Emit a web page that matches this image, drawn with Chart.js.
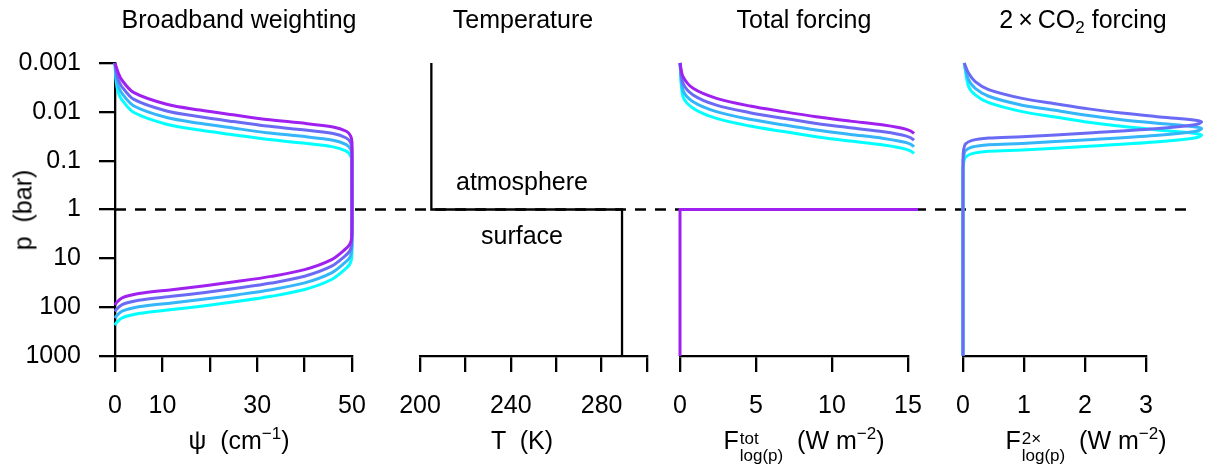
<!DOCTYPE html>
<html>
<head>
<meta charset="utf-8">
<script src="https://cdn.jsdelivr.net/npm/chart.js@4.4.1/dist/chart.umd.min.js"></script>
<style>
  html, body { margin: 0; padding: 0; background: #fff; }
  body { width: 1205px; height: 468px; position: relative; overflow: hidden;
         font-family: "Liberation Sans", Arial, sans-serif; color: #000; }
  canvas { position: absolute; top: 0; }
  .lab { position: absolute; font-size: 25px; line-height: 25px; white-space: pre; transform: translateX(-50%); }
  .lab sub { font-size: 17px; line-height: 0; vertical-align: -5px; }
  .lab sup { font-size: 17px; line-height: 0; vertical-align: 10px; }
  .ss { display: inline-block; vertical-align: -12px; font-size: 17px; line-height: 17px; margin-left: 1px; }
  .ss span { display: block; }
</style>
</head>
<body>
<canvas id="c1" width="395" height="468" style="left:0px"></canvas>
<canvas id="c2" width="265" height="468" style="left:395px"></canvas>
<canvas id="c3" width="280" height="468" style="left:660px"></canvas>
<canvas id="c4" width="265" height="468" style="left:940px"></canvas>

<div class="lab" style="left:239px; top:7px">Broadband weighting</div>
<div class="lab" style="left:523px; top:7px">Temperature</div>
<div class="lab" style="left:804px; top:7px">Total forcing</div>
<div class="lab" style="left:1083px; top:7px">2&#8201;×&#8201;CO<sub>2</sub> forcing</div>

<div class="lab" style="left:23px; top:210px; transform: translate(-50%, -50%) rotate(-90deg)">p  (bar)</div>

<div class="lab" style="left:522px; top:169px">atmosphere</div>
<div class="lab" style="left:522px; top:223px">surface</div>

<div class="lab" style="left:239px; top:428px">ψ  (cm<sup>−1</sup>)</div>
<div class="lab" style="left:522px; top:428px">T  (K)</div>
<div class="lab" style="left:804px; top:428px">F<span class="ss"><span>tot</span><span>log(p)</span></span>  (W m<sup>−2</sup>)</div>
<div class="lab" style="left:1086px; top:428px">F<span class="ss"><span>2×</span><span>log(p)</span></span>  (W m<sup>−2</sup>)</div>

<script>
// colours: cyan -> purple ramp
const colors = ['#00FFFF', '#35B5FA', '#6B6AF5', '#A020F0'];

// pressure axis (bar), shared by all panels
const yTicks = [0.001, 0.01, 0.1, 1, 10, 100, 1000];
const yTickLabels = ['0.001', '0.01', '0.1', '1', '10', '100', '1000'];
const refPressure = 1;

// x ticks per panel
const psiTicks = [0, 10, 20, 30, 40, 50];
const psiTickLabels = ['0', '10', '', '30', '', '50'];
const tempTicks = [200, 220, 240, 260, 280, 300];
const tempTickLabels = ['200', '', '240', '', '280', ''];
const totTicks = [0, 5, 10, 15];
const totTickLabels = ['0', '5', '10', '15'];
const co2Ticks = [0, 1, 2, 3];
const co2TickLabels = ['0', '1', '2', '3'];

// broadband weighting psi (cm^-1) vs p (bar), [psi, p]
const psiPurple = [[0,0.001],[0.7,0.0016],[1.4,0.0022],[3.9,0.0040],[10.9,0.0070],[17.9,0.0092],[24.9,0.0115],[32,0.0143],[39,0.0168],[46,0.0204],[48.8,0.0250],[49.7,0.031],[50,0.042],
  [50,2.0],[49.9,4.0],[49.5,5.2],[48.5,6.6],[45.7,10.6],[40,17],[33,23.4],[26,29.6],[19,36.4],[12,43.8],[5,52.7],[1.5,64.5],[0.3,81],[0,90]];
const psiViolet = [[0,0.001],[0.3,0.0016],[0.7,0.0022],[1.4,0.0030],[3.9,0.0055],[10.9,0.0096],[17.9,0.0126],[24.9,0.0158],[32,0.0196],[39,0.0230],[46,0.0279],[48.8,0.0343],[49.7,0.0425],[50,0.0575],
  [50,2.74],[49.9,5.48],[49.5,7.12],[48.5,9.04],[45.7,14.5],[40,23.3],[33,32.1],[26,40.6],[19,49.9],[12,60.0],[5,72.2],[1.5,88.4],[0.3,111],[0,123]];
const psiBlue = [[0,0.001],[0.2,0.0018],[0.7,0.0030],[1.4,0.0041],[3.9,0.0075],[10.9,0.0131],[17.9,0.0172],[24.9,0.0215],[32,0.0267],[39,0.0314],[46,0.0381],[48.8,0.0468],[49.7,0.058],[50,0.0785],
  [50,3.74],[49.9,7.48],[49.5,9.72],[48.5,12.3],[45.7,19.8],[40,31.8],[33,43.8],[26,55.4],[19,68.1],[12,81.9],[5,98.5],[1.5,121],[0.3,151],[0,168]];
const psiCyan = [[0,0.001],[0.2,0.0022],[0.7,0.0041],[1.4,0.0056],[3.9,0.0102],[10.9,0.0179],[17.9,0.0236],[24.9,0.0294],[32,0.0366],[39,0.0430],[46,0.0522],[48.8,0.064],[49.7,0.0794],[50,0.1075],
  [50,5.12],[49.9,10.2],[49.5,13.3],[48.5,16.9],[45.7,27.1],[40,43.5],[33,59.9],[26,75.8],[19,93.2],[12,112],[5,135],[1.5,165],[0.3,207],[0,235]];

// temperature profile (K) vs p (bar)
const tempProfile = [[205,0.001],[205,1],[289,1],[289,1000]];

// total forcing (W m^-2) vs p, atmosphere part
const totPurple = [[0,0.001],[0.2,0.0019],[0.86,0.0033],[2.4,0.0053],[4.6,0.0076],[6.8,0.0099],[8.97,0.0126],[11.2,0.0155],[13.4,0.0187],[14.9,0.0229],[15.4,0.0277],[15.66,0.038],[15.66,1]];
const totViolet = [[0,0.001],[0.2,0.0026],[0.86,0.0045],[2.4,0.0073],[4.6,0.0104],[6.8,0.0136],[8.97,0.0173],[11.2,0.0212],[13.4,0.0256],[14.9,0.0314],[15.4,0.0379],[15.66,0.052],[15.66,1]];
const totBlue = [[0,0.001],[0.2,0.0036],[0.86,0.0062],[2.4,0.0099],[4.6,0.0142],[6.8,0.0185],[8.97,0.0236],[11.2,0.0290],[13.4,0.0350],[14.9,0.0428],[15.4,0.0518],[15.66,0.071],[15.66,1]];
const totCyan = [[0,0.001],[0.2,0.0049],[0.86,0.0084],[2.4,0.0136],[4.6,0.0195],[6.8,0.0253],[8.97,0.0323],[11.2,0.0397],[13.4,0.0479],[14.9,0.0586],[15.4,0.0709],[15.66,0.097],[15.66,1]];
// surface step (same for all curves)
const totSurface = [[15.66,1],[0,1],[0,1000]];

// 2xCO2 forcing (W m^-2) vs p
const co2Violet = [[0.02,0.001],[0.09,0.0016],[0.2,0.0024],[0.42,0.0035],[0.97,0.0053],[1.51,0.0068],[2.06,0.0087],[2.6,0.0106],[3.15,0.0124],[3.58,0.0138],[3.86,0.0152],[3.91,0.0162],[3.8,0.0184],[3.15,0.0222],[2.06,0.0271],[0.97,0.0323],[0.42,0.0344],[0.15,0.0384],[0.04,0.0457],[0.01,0.060],[0,0.1],[0,1000]];
const co2Blue = [[0.02,0.001],[0.09,0.0022],[0.2,0.0033],[0.42,0.0048],[0.97,0.0073],[1.51,0.0093],[2.06,0.0119],[2.6,0.0145],[3.15,0.0170],[3.58,0.0189],[3.86,0.0208],[3.91,0.0222],[3.8,0.0252],[3.15,0.0304],[2.06,0.0371],[0.97,0.0443],[0.42,0.0471],[0.15,0.0526],[0.04,0.0626],[0.01,0.082],[0,0.137],[0,1000]];
const co2Cyan = [[0.02,0.001],[0.09,0.0030],[0.2,0.0045],[0.42,0.0065],[0.97,0.0099],[1.51,0.0127],[2.06,0.0163],[2.6,0.0198],[3.15,0.0232],[3.58,0.0258],[3.86,0.0284],[3.91,0.0303],[3.8,0.0344],[3.15,0.0415],[2.06,0.0507],[0.97,0.0604],[0.42,0.0643],[0.15,0.0718],[0.04,0.0855],[0.01,0.112],[0,0.187],[0,1000]];

Chart.defaults.font.family = '"Liberation Sans", Arial, sans-serif';
Chart.defaults.font.size = 25;
Chart.defaults.color = '#000';

const DASH = [11, 9];
let dashOrigin = null;

// dashed p = 1 line, runs across the panels
const refLinePlugin = {
  id: 'refLine',
  beforeDatasetsDraw(chart, args, o) {
    const { ctx, scales: { x, y } } = chart;
    const py = y.getPixelForValue(refPressure);
    const x0 = o.from === undefined ? 0 : x.getPixelForValue(o.from);
    const x1 = o.to === undefined ? chart.width : x.getPixelForValue(o.to);
    const left = chart.canvas.offsetLeft;
    if (dashOrigin === null) dashOrigin = left + x0;
    const period = DASH[0] + DASH[1];
    ctx.save();
    ctx.setLineDash(DASH);
    ctx.lineDashOffset = (((left + x0 - dashOrigin) % period) + period) % period;
    ctx.lineWidth = 2.3;
    ctx.strokeStyle = '#000';
    ctx.beginPath();
    ctx.moveTo(x0, py);
    ctx.lineTo(x1, py);
    ctx.stroke();
    ctx.restore();
  }
};

function series(points, color, width, tension) {
  return {
    data: points.map(([x, y]) => ({ x, y })),
    borderColor: color,
    borderWidth: width || 3,
    tension: tension === undefined ? 0.3 : tension,
    pointRadius: 0,
    clip: false
  };
}

function makePanel(id, cfg) {
  return new Chart(document.getElementById(id), {
    type: 'line',
    data: { datasets: cfg.datasets },
    options: {
      responsive: false,
      animation: false,
      events: [],
      layout: { padding: cfg.padding },
      plugins: { legend: { display: false }, tooltip: { enabled: false }, refLine: cfg.refLine },
      scales: {
        x: {
          type: 'linear',
          min: cfg.xTicks[0],
          max: cfg.xTicks[cfg.xTicks.length - 1],
          afterBuildTicks: s => { s.ticks = cfg.xTicks.map(v => ({ value: v })); },
          // fixed axis height; labels may overhang the plot edges
          afterFit: s => { s.height = 80; s.paddingLeft = 0; s.paddingRight = 0; },
          ticks: { callback: (v, i) => cfg.xLabels[i], autoSkip: false, maxRotation: 0, padding: 19, color: '#000' },
          grid: { drawOnChartArea: false, drawTicks: true, tickLength: 16, lineWidth: 2.3, color: '#000' },
          border: { display: true, width: 2.3, color: '#000' }
        },
        y: {
          type: 'logarithmic',
          reverse: true,
          min: yTicks[0],
          max: yTicks[yTicks.length - 1],
          display: cfg.showY,
          afterBuildTicks: s => { s.ticks = yTicks.map(v => ({ value: v })); },
          afterFit: s => { if (cfg.showY) s.width = 115; },
          ticks: { callback: (v, i) => yTickLabels[i], autoSkip: false, padding: 18, color: '#000' },
          grid: { drawOnChartArea: false, drawTicks: true, tickLength: 16, lineWidth: 2.3, color: '#000' },
          border: { display: true, width: 2.3, color: '#000' }
        }
      }
    },
    plugins: [refLinePlugin]
  });
}

makePanel('c1', {
  showY: true,
  padding: { left: 0, right: 43, top: 63, bottom: 32 },
  xTicks: psiTicks, xLabels: psiTickLabels,
  refLine: { from: 0 },
  datasets: [
    series(psiPurple, colors[3]),
    series(psiViolet, colors[2]),
    series(psiBlue, colors[1]),
    series(psiCyan, colors[0])
  ]
});

makePanel('c2', {
  showY: false,
  padding: { left: 25, right: 13, top: 63, bottom: 32 },
  xTicks: tempTicks, xLabels: tempTickLabels,
  refLine: {},
  datasets: [series(tempProfile, '#000', 2.3, 0)]
});

makePanel('c3', {
  showY: false,
  padding: { left: 20, right: 32, top: 63, bottom: 32 },
  xTicks: totTicks, xLabels: totTickLabels,
  refLine: {},
  datasets: [
    series(totSurface, colors[3], 3, 0),
    series(totPurple, colors[3]),
    series(totViolet, colors[2]),
    series(totBlue, colors[1]),
    series(totCyan, colors[0])
  ]
});

makePanel('c4', {
  showY: false,
  padding: { left: 23, right: 59, top: 63, bottom: 32 },
  xTicks: co2Ticks, xLabels: co2TickLabels,
  refLine: { to: 3.75 },
  datasets: [
    series(co2Violet, colors[2]),
    series(co2Blue, colors[1]),
    series(co2Cyan, colors[0])
  ]
});
</script>
</body>
</html>
